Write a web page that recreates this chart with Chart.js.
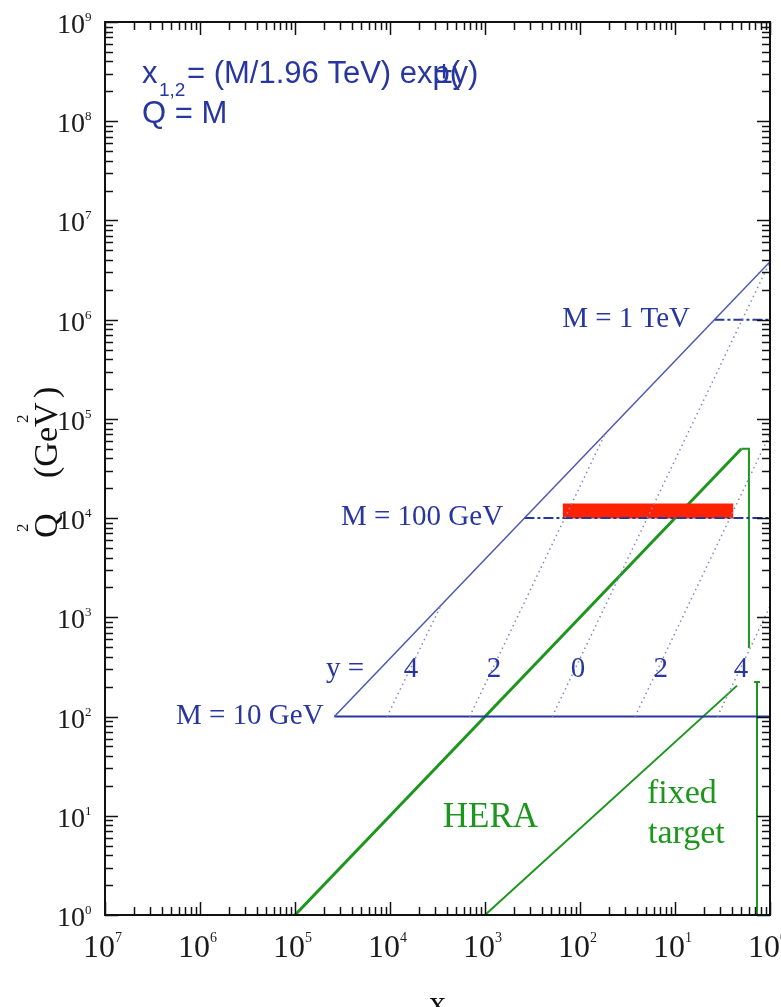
<!DOCTYPE html>
<html>
<head>
<meta charset="utf-8">
<script src="https://cdn.jsdelivr.net/npm/chart.js@4.4.1/dist/chart.umd.min.js"></script>
<style>
  html, body { margin: 0; padding: 0; background: #fff; }
  #wrap { width: 781px; height: 1007px; }
</style>
</head>
<body>
<div id="wrap"><canvas id="myChart"></canvas></div>
<script>
// ticks are decades, labelled 10^n (the sign of n is not printed in the figure)
const xTickValues = [1e-7, 1e-6, 1e-5, 1e-4, 1e-3, 1e-2, 1e-1, 1];
const xTickPowers = ['7', '6', '5', '4', '3', '2', '1', '0'];
const yTickValues = [1, 10, 100, 1e3, 1e4, 1e5, 1e6, 1e7, 1e8, 1e9];
const yTickPowers = ['0', '1', '2', '3', '4', '5', '6', '7', '8', '9'];

// kinematic limit, Q2 = s x
const limitX = [2.6e-5, 1];
const limitQ2 = [100, 3.84e6];

// lines of fixed rapidity, y = 4, 2, 0, -2, -4
const rapidityLabels = ['4', '2', '0', '2', '4'];
const rapidityX = [[9.3e-5, 3.4e-4], [6.9e-4, 1.83e-2], [5.1e-3, 1], [3.8e-2, 1], [0.28, 1]];
const rapidityQ2 = [[100, 1290], [100, 7.0e4], [100, 3.84e6], [100, 7.0e4], [100, 1290]];

// lines of fixed mass
const massLabels = ['M = 10 GeV', 'M = 100 GeV', 'M = 1 TeV'];
const massStartX = [2.6e-5, 2.6e-3, 0.26];
const massQ2 = [100, 1e4, 1e6];

// red band
const bandX = [6.6e-3, 0.41];
const bandQ2 = [1.18e4, 1.18e4];

// HERA
const heraX = [1e-5, 0.5];
const heraQ2 = [1, 5e4];
const heraEdgeX = [0.5, 0.6, 0.6];
const heraEdgeQ2 = [5e4, 5e4, 490];

// fixed target
const fixedX = [1e-3, 0.45];
const fixedQ2 = [1, 205];
const fixedEdgeX = [0.73, 0.73];
const fixedEdgeQ2 = [1, 223];
const fixedCapX = [0.68, 0.785];
const fixedCapQ2 = [223, 223];

const blue = '#28379f';
const green = '#1c961c';
const serif = "'Liberation Serif', 'Times New Roman', serif";
const sans = "'Liberation Sans', Arial, sans-serif";

const pts = (xs, ys) => xs.map((v, i) => ({ x: v, y: ys[i] }));

const datasets = [];
const line = (data, color, width, dash, extra) => {
  datasets.push(Object.assign({
    data: data,
    borderColor: color,
    borderWidth: width,
    borderDash: dash || [],
    pointRadius: 0,
    fill: false,
    tension: 0
  }, extra || {}));
};

rapidityX.forEach((xs, i) => line(pts(xs, rapidityQ2[i]), '#8088c8', 1.5, [1.5, 3.5]));
line(pts(limitX, limitQ2), '#4b57ad', 1.5);
massStartX.forEach((x0, i) => line(pts([x0, 1], [massQ2[i], massQ2[i]]), blue, 2, i === 0 ? [] : [10, 3, 3, 3]));
line(pts(bandX, bandQ2), '#ff2200', 15, [], { borderCapStyle: 'butt' });
line(pts(heraX, heraQ2), green, 3);
line(pts(heraEdgeX, heraEdgeQ2), green, 2);
line(pts(fixedX, fixedQ2), green, 2);
line(pts(fixedEdgeX, fixedEdgeQ2), green, 2);
line(pts(fixedCapX, fixedCapQ2), green, 2);

const frameTicks = {
  id: 'frameTicks',
  afterDatasetsDraw(chart) {
    const { ctx, chartArea: a, scales: { x, y } } = chart;
    ctx.save();
    ctx.strokeStyle = '#111';
    ctx.lineWidth = 1.5;
    const seg = (x1, y1, x2, y2) => {
      ctx.beginPath(); ctx.moveTo(x1, y1); ctx.lineTo(x2, y2); ctx.stroke();
    };
    xTickValues.forEach((d, k) => {
      for (let m = 1; m <= 9; m++) {
        if (k === xTickValues.length - 1 && m > 1) break;
        const px = Math.round(x.getPixelForValue(d * m)) + 0.5;
        const len = m === 1 ? 13 : 8;
        seg(px, a.bottom, px, a.bottom - len);
        seg(px, a.top, px, a.top + len);
      }
    });
    yTickValues.forEach((d, k) => {
      for (let m = 1; m <= 9; m++) {
        if (k === yTickValues.length - 1 && m > 1) break;
        const py = Math.round(y.getPixelForValue(d * m)) + 0.5;
        const len = m === 1 ? 13 : 8;
        seg(a.left, py, a.left + len, py);
        seg(a.right, py, a.right - len, py);
      }
    });
    ctx.lineWidth = 2;
    ctx.strokeRect(a.left, a.top, a.width, a.height);

    // tick labels 10^n with a small raised exponent
    ctx.fillStyle = '#1a1a1a';
    ctx.textBaseline = 'alphabetic';
    xTickValues.forEach((v, i) => {
      const px = x.getPixelForValue(v);
      ctx.font = '32px ' + serif;
      ctx.textAlign = 'right';
      ctx.fillText('10', px + 10, a.bottom + 42);
      ctx.font = '14px ' + serif;
      ctx.textAlign = 'left';
      ctx.fillText(xTickPowers[i], px + 10, a.bottom + 27);
    });
    yTickValues.forEach((v, i) => {
      const py = y.getPixelForValue(v);
      ctx.font = '28px ' + serif;
      ctx.textAlign = 'right';
      ctx.fillText('10', a.left - 20, py + 11);
      ctx.font = '13px ' + serif;
      ctx.textAlign = 'left';
      ctx.fillText(yTickPowers[i], a.left - 20, py - 1);
    });
    ctx.restore();
  }
};

const notes = {
  id: 'notes',
  afterDraw(chart) {
    const { ctx, scales: { x, y } } = chart;
    ctx.save();
    const put = (text, xv, yv, font, color, align) => {
      ctx.font = font;
      ctx.fillStyle = color;
      ctx.textAlign = align;
      ctx.textBaseline = 'alphabetic';
      ctx.fillText(text, x.getPixelForValue(xv), y.getPixelForValue(yv));
    };
    // mass labels
    const massRight = [2.0e-5, 1.55e-3, 0.144];
    massLabels.forEach((t, i) => put(t, massRight[i], massQ2[i] / 1.18, '29px ' + serif, blue, 'right'));
    // rapidity labels
    put('y =', 3.36e-5, 251, '29px ' + serif, blue, 'center');
    const rapX = [1.66e-4, 1.24e-3, 9.5e-3, 7.1e-2, 0.495];
    rapidityLabels.forEach((t, i) => put(t, rapX[i], 251, '29px ' + serif, blue, 'center'));
    // experiments
    put('HERA', 3.6e-4, 7.7, '35px ' + serif, green, 'left');
    put('fixed', 0.0507, 13.5, '34px ' + serif, green, 'left');
    put('target', 0.052, 5.3, '34px ' + serif, green, 'left');

    // formula, top left
    const fx = x.getPixelForValue(2.45e-7);
    const fy = y.getPixelForValue(2.44e8);
    ctx.fillStyle = blue;
    ctx.textAlign = 'left';
    ctx.font = '31px ' + sans;
    ctx.fillText('x', fx, fy);
    ctx.font = '19px ' + sans;
    ctx.fillText('1,2', fx + 17, fy + 13);
    ctx.font = '31px ' + sans;
    const head = '= (M/1.96 TeV) ex';
    ctx.fillText(head, fx + 45, fy);
    const hw = ctx.measureText(head).width;
    ctx.fillText('p(', fx + 45 + hw, fy);
    ctx.fillText('±y)', fx + 45 + hw + 3, fy);
    ctx.fillText('Q = M', fx, y.getPixelForValue(9.6e7));

    // axis titles
    ctx.fillStyle = '#111';
    ctx.font = '34px ' + serif;
    ctx.textAlign = 'center';
    ctx.fillText('x', (chart.chartArea.left + chart.chartArea.right) / 2, 1014);

    ctx.save();
    ctx.translate(57, 538);
    ctx.rotate(-Math.PI / 2);
    ctx.textAlign = 'left';
    ctx.font = '34px ' + serif;
    ctx.fillText('Q', 0, 0);
    ctx.fillText('(GeV', 60, 0);
    ctx.fillText(')', 140, 0);
    ctx.font = '17px ' + serif;
    ctx.fillText('2', 6, -29);
    ctx.fillText('2', 115, -29);
    ctx.restore();
    ctx.restore();
  }
};

new Chart(document.getElementById('myChart'), {
  type: 'line',
  data: { datasets: datasets },
  options: {
    responsive: true,
    maintainAspectRatio: false,
    animation: false,
    layout: { padding: { top: 22, right: 11, left: 0, bottom: 0 } },
    plugins: { legend: { display: false }, tooltip: { enabled: false } },
    scales: {
      x: {
        type: 'logarithmic',
        min: 1e-7,
        max: 1,
        grid: { display: false, drawTicks: false },
        border: { display: false },
        afterBuildTicks: scale => { scale.ticks = xTickValues.map(v => ({ value: v })); },
        afterFit: scale => { scale.height = 92; scale.paddingLeft = 0; scale.paddingRight = 0; },
        ticks: { display: false }
      },
      y: {
        type: 'logarithmic',
        min: 1,
        max: 1e9,
        grid: { display: false, drawTicks: false },
        border: { display: false },
        afterBuildTicks: scale => { scale.ticks = yTickValues.map(v => ({ value: v })); },
        afterFit: scale => { scale.width = 105; scale.paddingTop = 0; scale.paddingBottom = 0; },
        ticks: { display: false }
      }
    }
  },
  plugins: [frameTicks, notes]
});
</script>
</body>
</html>
